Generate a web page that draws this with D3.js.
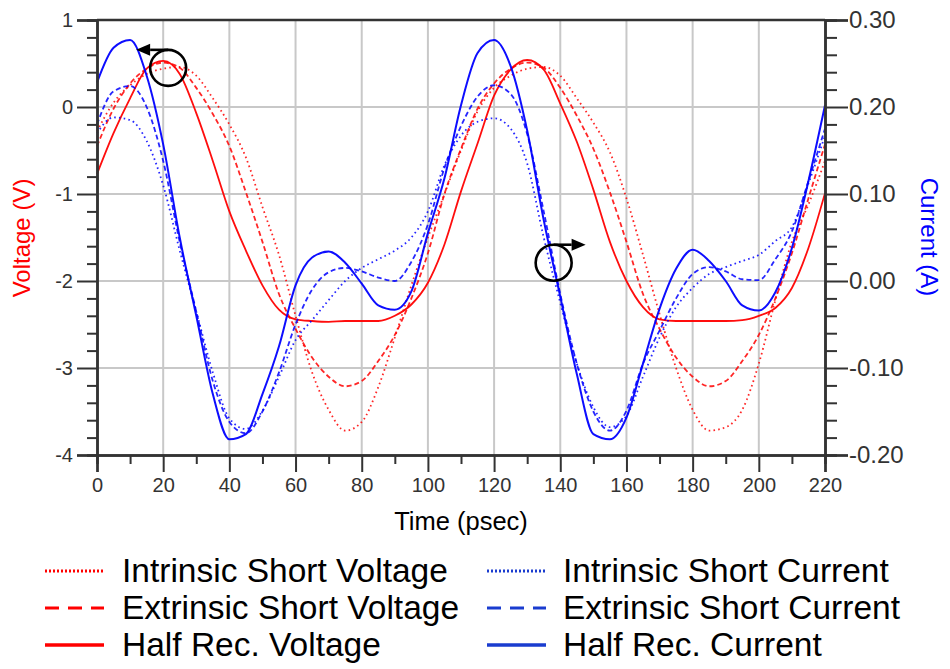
<!DOCTYPE html>
<html>
<head>
<meta charset="utf-8">
<script src="https://cdn.jsdelivr.net/npm/d3@7"></script>
<style>
  html, body { margin: 0; padding: 0; background: #fff; }
  svg { display: block; font-family: "Liberation Sans", Arial, sans-serif; }
</style>
</head>
<body>
<svg id="chart" width="950" height="669"></svg>
<script>
// Time samples (psec)
const timePs = [0,5,10,15,20,25,30,35,40,45,50,55,60,65,70,75,80,85,90,95,100,105,
  110,115,120,125,130,135,140,145,150,155,160,165,170,175,180,185,190,195,200,205,210,215,220];

// Voltages (V), left axis
const intrinsicShortVoltage = [-0.28,0.05,0.25,0.38,0.44,0.46,0.36,0.10,-0.20,-0.58,-1.15,-1.70,-2.40,-3.05,-3.48,-3.72,-3.62,-3.22,-2.65,-2.05,-1.50,-1.00,
  -0.50,-0.05,0.22,0.36,0.44,0.46,0.36,0.10,-0.18,-0.52,-1.05,-1.70,-2.38,-3.00,-3.48,-3.72,-3.68,-3.48,-2.95,-2.22,-1.55,-1.12,-0.62];
const extrinsicShortVoltage = [-0.45,-0.02,0.27,0.44,0.51,0.45,0.22,-0.08,-0.45,-0.98,-1.55,-2.15,-2.55,-2.88,-3.10,-3.21,-3.15,-2.92,-2.62,-2.20,-1.68,-1.00,
  -0.48,-0.02,0.27,0.44,0.51,0.45,0.22,-0.10,-0.48,-0.98,-1.55,-2.15,-2.55,-2.88,-3.10,-3.21,-3.15,-2.92,-2.62,-2.20,-1.68,-1.05,-0.43];
const halfRecVoltage = [-0.77,-0.30,0.10,0.44,0.53,0.38,-0.07,-0.62,-1.20,-1.65,-2.05,-2.33,-2.44,-2.46,-2.47,-2.46,-2.46,-2.46,-2.40,-2.27,-2.02,-1.58,
  -0.97,-0.42,0.13,0.43,0.54,0.43,0.04,-0.40,-0.95,-1.55,-2.00,-2.30,-2.44,-2.46,-2.46,-2.46,-2.46,-2.45,-2.40,-2.31,-2.08,-1.62,-0.99];

// Currents (A), right axis
const intrinsicShortCurrent = [0.170,0.188,0.185,0.161,0.110,0.035,-0.035,-0.105,-0.158,-0.170,-0.149,-0.110,-0.068,-0.045,-0.022,0.000,0.015,0.025,0.035,0.050,0.080,0.133,
  0.167,0.183,0.187,0.175,0.135,0.050,-0.025,-0.095,-0.145,-0.168,-0.155,-0.110,-0.065,-0.030,-0.008,0.008,0.016,0.023,0.030,0.046,0.062,0.112,0.167];
const extrinsicShortCurrent = [0.180,0.218,0.224,0.200,0.138,0.045,-0.035,-0.115,-0.162,-0.175,-0.150,-0.105,-0.050,-0.010,0.010,0.015,0.011,0.004,0.000,0.022,0.065,0.130,
  0.178,0.212,0.225,0.215,0.169,0.080,-0.015,-0.095,-0.150,-0.172,-0.149,-0.095,-0.057,-0.020,0.008,0.016,0.011,0.002,0.001,0.025,0.057,0.115,0.175];
const halfRecCurrent = [0.228,0.268,0.277,0.236,0.157,0.050,-0.040,-0.130,-0.182,-0.176,-0.130,-0.075,-0.005,0.027,0.034,0.021,-0.003,-0.028,-0.033,-0.012,0.055,0.118,
  0.202,0.262,0.277,0.247,0.173,0.070,-0.018,-0.107,-0.176,-0.182,-0.157,-0.095,-0.032,0.014,0.036,0.023,0.000,-0.028,-0.034,-0.013,0.038,0.115,0.202];

// Axis ticks
const timeTicks = [0,20,40,60,80,100,120,140,160,180,200,220];
const voltageTicks = [-4,-3,-2,-1,0,1];
const currentTicks = [-0.20,-0.10,0.00,0.10,0.20,0.30];

// Legend entries
const legendLabels = ["Intrinsic Short Voltage","Extrinsic Short Voltage","Half Rec. Voltage",
  "Intrinsic Short Current","Extrinsic Short Current","Half Rec. Current"];

// Annotation markers: [time, value, axis, arrow direction]
const markerPoints = [[21.5, 0.45, "V", -1], [138, 0.021, "I", 1]];

const RED = "#ff0000", BLUE = "#0000ff", LEG_BLUE = "#1a3ccf";
const AXIS = "#333333", GRID = "#c8c8c8";

const svg = d3.select("#chart");
const plotLeft = 97, plotRight = 825, plotTop = 20, plotBottom = 455;

const x = d3.scaleLinear().domain([0, 220]).range([plotLeft, plotRight]);
const yV = d3.scaleLinear().domain([-4, 1]).range([plotBottom, plotTop]);
const yI = d3.scaleLinear().domain([-0.2, 0.3]).range([plotBottom, plotTop]);

// grid
const grid = svg.append("g").attr("stroke", GRID).attr("stroke-width", 2);
grid.selectAll("line.v").data(timeTicks.filter(t => t > 0 && t < 220)).join("line")
  .attr("class", "v")
  .attr("x1", d => x(d)).attr("x2", d => x(d)).attr("y1", plotTop).attr("y2", plotBottom);
grid.selectAll("line.h").data(voltageTicks.filter(v => v > -4 && v < 1)).join("line")
  .attr("class", "h")
  .attr("x1", plotLeft).attr("x2", plotRight).attr("y1", d => yV(d)).attr("y2", d => yV(d));

// curves
const plot = svg.append("g");
const series = [
  { vals: intrinsicShortVoltage, scale: yV, color: RED, dash: "1.6,3.2", w: 1.8 },
  { vals: extrinsicShortVoltage, scale: yV, color: RED, dash: "5,3", w: 1.8 },
  { vals: halfRecVoltage, scale: yV, color: RED, dash: null, w: 1.8 },
  { vals: intrinsicShortCurrent, scale: yI, color: BLUE, dash: "1.6,3.2", w: 1.8 },
  { vals: extrinsicShortCurrent, scale: yI, color: BLUE, dash: "5,3", w: 1.8 },
  { vals: halfRecCurrent, scale: yI, color: BLUE, dash: null, w: 2 }
];
series.forEach(s => {
  const line = d3.line().x((d, i) => x(timePs[i])).y(d => s.scale(d)).curve(d3.curveMonotoneX);
  plot.append("path").datum(s.vals)
    .attr("fill", "none").attr("stroke", s.color).attr("stroke-width", s.w)
    .attr("stroke-dasharray", s.dash).attr("stroke-opacity", s.dash ? 0.85 : 0.95)
    .attr("d", line);
});

// frame top
svg.append("line").attr("x1", plotLeft).attr("x2", plotRight).attr("y1", plotTop).attr("y2", plotTop)
  .attr("stroke", AXIS).attr("stroke-width", 2.5);

function styleAxis(g, fontSize) {
  g.select(".domain").attr("stroke", AXIS).attr("stroke-width", 2.5);
  g.selectAll(".tick line").attr("stroke", AXIS).attr("stroke-width", 2);
  g.selectAll(".tick text").attr("fill", "#333").style("font-size", fontSize + "px")
    .style("font-family", '"Liberation Sans", Arial, sans-serif');
}

// minor ticks
const minorV = d3.range(-4, 1.0001, 0.2).filter(v => Math.abs(v - Math.round(v)) > 1e-6);
const minorI = d3.range(-0.2, 0.3001, 0.02).filter(v => Math.abs(v * 10 - Math.round(v * 10)) > 1e-6);
const minorT = d3.range(10, 220, 20);

svg.append("g").attr("transform", `translate(${plotLeft},0)`)
  .call(d3.axisLeft(yV).tickValues(minorV).tickSize(10).tickFormat(""))
  .call(g => styleAxis(g, 20));
svg.append("g").attr("transform", `translate(${plotLeft},0)`)
  .call(d3.axisLeft(yV).tickValues(voltageTicks).tickSize(20).tickPadding(4).tickFormat(d => String(d)))
  .call(g => styleAxis(g, 20));

svg.append("g").attr("transform", `translate(${plotRight},0)`)
  .call(d3.axisRight(yI).tickValues(minorI).tickSize(12).tickFormat(""))
  .call(g => styleAxis(g, 24));
svg.append("g").attr("transform", `translate(${plotRight},0)`)
  .call(d3.axisRight(yI).tickValues(currentTicks).tickSize(23).tickPadding(1).tickFormat(d => d.toFixed(2)))
  .call(g => styleAxis(g, 24));

svg.append("g").attr("transform", `translate(0,${plotBottom})`)
  .call(d3.axisBottom(x).tickValues(minorT).tickSize(9).tickFormat(""))
  .call(g => styleAxis(g, 20));
svg.append("g").attr("transform", `translate(0,${plotBottom})`)
  .call(d3.axisBottom(x).tickValues(timeTicks).tickSize(17).tickPadding(6).tickFormat(d => String(d)))
  .call(g => styleAxis(g, 20));

// axis titles
svg.append("text").attr("x", (plotLeft + plotRight) / 2).attr("y", 530).attr("text-anchor", "middle")
  .style("font-size", "25.5px").attr("fill", "#000").text("Time (psec)");
svg.append("text").attr("transform", "translate(30,238) rotate(-90)").attr("text-anchor", "middle")
  .style("font-size", "24px").attr("fill", RED).text("Voltage (V)");
svg.append("text").attr("transform", "translate(921,237) rotate(90)").attr("text-anchor", "middle")
  .style("font-size", "24px").attr("fill", BLUE).text("Current (A)");

// annotations: circled crossing points with arrows toward their axis
const ann = svg.append("g").attr("stroke", "#000").attr("fill", "none");
markerPoints.forEach(([t, v, axis, dir]) => {
  const cx = x(t), cy = (axis === "V" ? yV : yI)(v), r = 18;
  ann.append("circle").attr("cx", cx).attr("cy", cy).attr("r", r).attr("stroke-width", 2.6);
  const ay = cy - r;
  const base = cx + dir * 18, tip = cx + dir * 32;
  ann.append("line").attr("x1", cx).attr("x2", base).attr("y1", ay).attr("y2", ay).attr("stroke-width", 2.6);
  ann.append("path").attr("fill", "#000").attr("stroke", "none")
    .attr("d", `M${tip},${ay} L${base},${ay - 6} L${base},${ay + 6} Z`);
});

// legend
const legend = svg.append("g");
const dashes = ["2,2", "14,9", null];
legendLabels.forEach((label, i) => {
  const col = Math.floor(i / 3), row = i % 3;
  const lx = col === 0 ? 45 : 487, tx = col === 0 ? 122 : 563;
  const baseY = 582 + row * 37;
  const ly = baseY - 11;
  const color = col === 0 ? RED : LEG_BLUE;
  legend.append("line").attr("x1", lx).attr("x2", lx + 59).attr("y1", ly).attr("y2", ly)
    .attr("stroke", color).attr("stroke-width", row === 2 ? 3.5 : 2.8)
    .attr("stroke-dasharray", dashes[row]);
  legend.append("text").attr("x", tx).attr("y", baseY).style("font-size", "33.5px")
    .attr("fill", "#000").text(label);
});
</script>
</body>
</html>
